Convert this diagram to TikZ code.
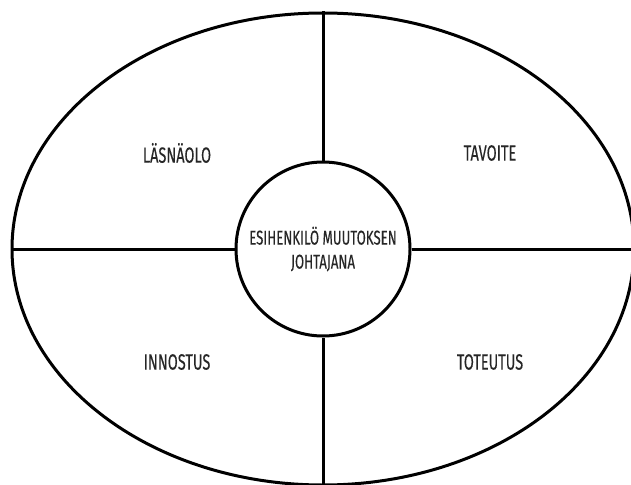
\documentclass[tikz,border=0pt]{standalone}
\usepackage{fontspec}
\setmainfont{Fira Sans}[FakeStretch=0.66, FakeBold=0.3]
\usepackage{tikz}
\usetikzlibrary{positioning,shapes.geometric}

\tikzset{
  field/.style={font=\fontsize{22}{25}\selectfont, text=black!85, inner sep=0pt},
  divider/.style={line width=3pt, draw=black}
}

\begin{document}
\begin{tikzpicture}[x=1pt, y=-1pt]
    \useasboundingbox (0,0) rectangle (631,484);
    % Outer rim
    \node[ellipse, draw, line width=3pt, minimum width=622pt, minimum height=472pt, inner sep=0pt] (rim) at (323,249) {};
    % Centre
    \node[circle, draw, line width=3pt, fill=white, minimum size=174pt, align=center, field, font=\fontsize{20}{24}\selectfont] (core) at (323,249) {ESIHENKILÖ MUUTOKSEN\\JOHTAJANA};

    % Quarter labels
    \node[field] (presence) at (177,153) {LÄSNÄOLO};
    \node[field] (goal) at (490,153) {TAVOITE};
    \node[field] (spark) at (177,362) {INNOSTUS};
    \node[field] (doing) at (490,362) {TOTEUTUS};

    % Dividers
    \draw[divider] (core.north) -- (rim.north);
    \draw[divider] (core.south) -- (rim.south);
    \draw[divider] (core.west) -- (rim.west);
    \draw[divider] (core.east) -- (rim.east);
\end{tikzpicture}
\end{document}
